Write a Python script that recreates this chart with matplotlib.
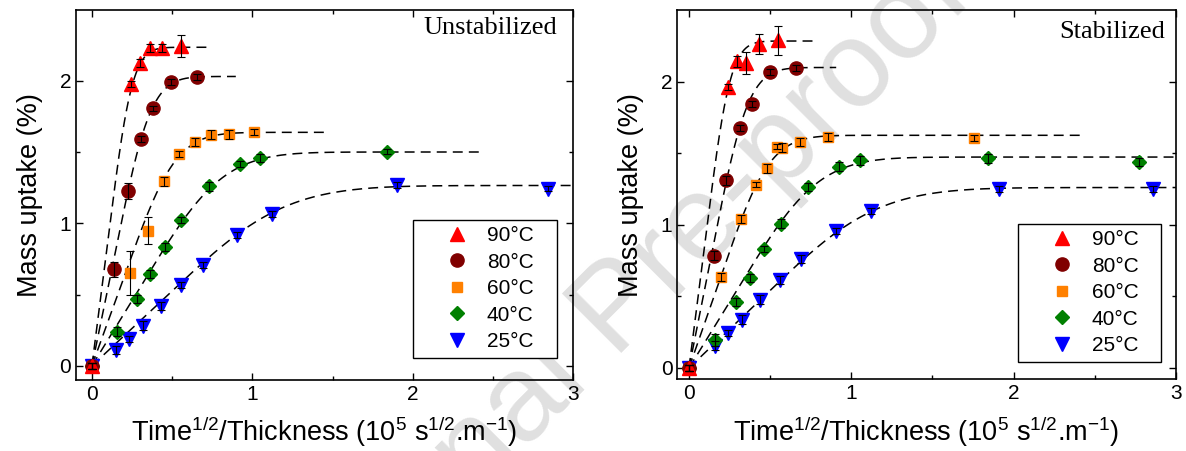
import numpy as np
import matplotlib
matplotlib.use("Agg")
import matplotlib.pyplot as plt

plt.rcParams['font.family'] = ['Liberation Sans', 'DejaVu Sans']
plt.rcParams['mathtext.default'] = 'regular'

# ---------------- data ----------------
labels = ['90°C', '80°C', '60°C', '40°C', '25°C']
colors = ['#ff0000', '#800000', '#ff8000', '#008000', '#0000ff']
markers = ['^', 'o', 's', 'D', 'v']
msizes = [9.5, 9.5, 7.5, 7, 9.5]

# Unstabilized (left)
u90_x = [0, 0.242, 0.300, 0.363, 0.437, 0.555]
u90_y = [0, 1.977, 2.124, 2.229, 2.229, 2.245]
u90_e = [0.02, 0.02, 0.03, 0.03, 0.03, 0.075]
u80_x = [0, 0.140, 0.227, 0.304, 0.379, 0.491, 0.653]
u80_y = [0, 0.676, 1.224, 1.592, 1.806, 1.993, 2.028]
u80_e = [0.02, 0.055, 0.055, 0.02, 0.02, 0.02, 0.02]
u60_x = [0, 0.2375, 0.348, 0.451, 0.545, 0.643, 0.743, 0.853, 1.012]
u60_y = [0, 0.652, 0.946, 1.294, 1.487, 1.569, 1.622, 1.624, 1.638]
u60_e = [0.02, 0.155, 0.095, 0.03, 0.02, 0.03, 0.03, 0.03, 0.02]
u40_x = [0, 0.155, 0.279, 0.362, 0.458, 0.555, 0.732, 0.925, 1.048, 1.838]
u40_y = [0, 0.240, 0.469, 0.643, 0.834, 1.021, 1.259, 1.417, 1.459, 1.503]
u40_e = [0.02, 0.03, 0.03, 0.03, 0.03, 0.02, 0.03, 0.02, 0.03, 0.02]
u25_x = [0, 0.150, 0.233, 0.317, 0.429, 0.555, 0.691, 0.903, 1.121, 1.904, 2.844]
u25_y = [0, 0.112, 0.187, 0.282, 0.420, 0.566, 0.706, 0.916, 1.063, 1.266, 1.243]
u25_e = [0.02, 0.03, 0.02, 0.03, 0.03, 0.02, 0.02, 0.02, 0.02, 0.02, 0.02]

# Stabilized (right)
s90_x = [0, 0.240, 0.295, 0.349, 0.432, 0.549]
s90_y = [0, 1.966, 2.143, 2.133, 2.262, 2.290]
s90_e = [0.02, 0.02, 0.04, 0.076, 0.07, 0.10]
s80_x = [0, 0.153, 0.231, 0.312, 0.386, 0.498, 0.659]
s80_y = [0, 0.785, 1.312, 1.676, 1.845, 2.070, 2.098]
s80_e = [0.02, 0.03, 0.03, 0.02, 0.02, 0.02, 0.02]
s60_x = [0, 0.200, 0.322, 0.413, 0.479, 0.545, 0.572, 0.682, 0.855, 1.755]
s60_y = [0, 0.637, 1.040, 1.282, 1.394, 1.547, 1.540, 1.580, 1.615, 1.607]
s60_e = [0.02, 0.03, 0.03, 0.02, 0.03, 0.02, 0.03, 0.03, 0.03, 0.02]
s40_x = [0, 0.159, 0.287, 0.374, 0.463, 0.564, 0.735, 0.924, 1.052, 1.840, 2.775]
s40_y = [0, 0.196, 0.461, 0.630, 0.830, 1.008, 1.266, 1.406, 1.451, 1.465, 1.439]
s40_e = [0.02, 0.04, 0.03, 0.03, 0.02, 0.03, 0.03, 0.03, 0.03, 0.03, 0.03]
s25_x = [0, 0.159, 0.240, 0.324, 0.436, 0.562, 0.690, 0.907, 1.119, 1.911, 2.858]
s25_y = [0, 0.156, 0.243, 0.337, 0.477, 0.614, 0.761, 0.958, 1.099, 1.252, 1.252]
s25_e = [0.02, 0.03, 0.02, 0.03, 0.03, 0.03, 0.03, 0.02, 0.02, 0.02, 0.02]

# Fickian fit parameters: plateau (%), initial slope of M/Minf, extent of curve
u_fit_plateau = [2.235, 2.03, 1.638, 1.50, 1.265]
u_fit_slope = [3.96, 2.70, 1.90, 1.22, 0.83]
u_fit_xmax = [0.716, 0.897, 1.453, 2.436, 3.0]
s_fit_plateau = [2.285, 2.10, 1.626, 1.474, 1.261]
s_fit_slope = [3.90, 2.72, 2.00, 1.25, 0.86]
s_fit_xmax = [0.762, 0.907, 2.41, 3.0, 3.0]

x_ticks = [0, 1, 2, 3]
y_ticks = [0, 1, 2]


def fick(x, plateau, slope):
    k = np.pi ** 3 * slope ** 2 / 16.0
    n = np.arange(0, 400)[:, None]
    m = (2 * n + 1) ** 2
    s = np.sum(np.exp(-m * k * x[None, :] ** 2) / m, axis=0)
    return plateau * (1 - 8 / np.pi ** 2 * s)


W, H = 1186, 451
fig = plt.figure(figsize=(W / 100, H / 100), dpi=100)


def make_axes(px_left, px_right, px_top, px_bottom):
    return fig.add_axes([px_left / W, 1 - px_bottom / H,
                         (px_right - px_left) / W, (px_bottom - px_top) / H])


axL = make_axes(75.9, 573.1, 9.5, 380.0)
axR = make_axes(677.3, 1175.9, 10.25, 379.4)

panels = [
    (axL, [(u90_x, u90_y, u90_e), (u80_x, u80_y, u80_e), (u60_x, u60_y, u60_e),
           (u40_x, u40_y, u40_e), (u25_x, u25_y, u25_e)],
     u_fit_plateau, u_fit_slope, u_fit_xmax, (-0.1, 3.0), (-0.1, 2.5), 'Unstabilized',
     (0.9676, 0.950), (413, 557, 220, 360)),
    (axR, [(s90_x, s90_y, s90_e), (s80_x, s80_y, s80_e), (s60_x, s60_y, s60_e),
           (s40_x, s40_y, s40_e), (s25_x, s25_y, s25_e)],
     s_fit_plateau, s_fit_slope, s_fit_xmax, (-0.072, 3.0), (-0.08, 2.5), 'Stabilized',
     (0.978, 0.941), (1018, 1161, 224, 365)),
]

for ax, series, plat, slope, xmax, xl, yl, title, tpos, lbox in panels:
    ax.set_facecolor('none')
    # fit curves
    for p, a, xm in zip(plat, slope, xmax):
        xx = np.linspace(0, xm, 600)
        ax.plot(xx, fick(xx, p, a), color='black', lw=1.1, dashes=(6.5, 4.0), zorder=2)
    handles = [None] * 5
    for i in [4, 3, 2, 1, 0]:
        xs, ys, es = series[i]
        h, = ax.plot(xs, ys, linestyle='none', marker=markers[i], ms=msizes[i],
                     color=colors[i], mec=colors[i], zorder=3 + (4 - i) * 0.1, label=labels[i])
        ax.errorbar(xs, ys, yerr=es, fmt='none', ecolor='black', elinewidth=0.8,
                    capsize=3, capthick=0.8, zorder=4)
        handles[i] = h
    ax.set_xlim(*xl)
    ax.set_ylim(*yl)
    ax.set_xticks(x_ticks)
    ax.set_yticks(y_ticks)
    ax.set_xticks([0.5, 1.5, 2.5], minor=True)
    ax.set_yticks([0.5, 1.5], minor=True)
    ax.tick_params(which='both', direction='in', top=True, right=True, labelsize=15,
                   width=1.0, colors='black')
    ax.tick_params(which='major', length=5)
    ax.tick_params(which='minor', length=3)
    for s in ax.spines.values():
        s.set_linewidth(1.2)
    ax.set_xlabel('Time$^{1/2}$/Thickness (10$^{5}$ s$^{1/2}$.m$^{-1}$)', fontsize=19.5, labelpad=8)
    ax.set_ylabel('Mass uptake (%)', fontsize=19.5, labelpad=12)
    ax.text(tpos[0], tpos[1], title, transform=ax.transAxes, ha='right', va='center',
            fontsize=19, family='Liberation Serif')
    # legend box from pixel extents
    bb = ax.get_position()
    x0p, x1p = bb.x0 * W, bb.x1 * W
    y1p, y0p = (1 - bb.y1) * H, (1 - bb.y0) * H
    bx = (lbox[0] - x0p) / (x1p - x0p)
    bw = (lbox[1] - lbox[0]) / (x1p - x0p)
    btop = (y0p - lbox[2]) / (y0p - y1p)
    bbot = (y0p - lbox[3]) / (y0p - y1p)
    leg = ax.legend(handles=handles, loc='upper left',
                    bbox_to_anchor=(bx, bbot, bw, btop - bbot), mode='expand',
                    borderaxespad=0, fontsize=15, frameon=True, fancybox=False,
                    edgecolor='black', framealpha=1, borderpad=0.3, labelspacing=0.36,
                    handlelength=3.6, handletextpad=-0.35, numpoints=1)
    leg.get_frame().set_linewidth(1.0)
    leg.set_zorder(10)

fig.text(0.522, 0.31, 'Journal Pre-proof', rotation=45, fontsize=88, color='#e0e0e0',
         ha='center', va='center', zorder=-5)

fig.savefig('out.png', dpi=100)
